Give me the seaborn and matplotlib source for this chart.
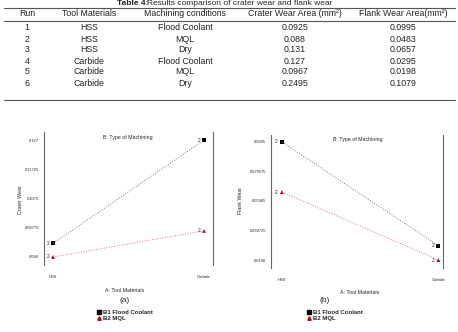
import pandas as pd
import seaborn as sns
import matplotlib.pyplot as plt
from matplotlib.lines import Line2D

# table data
runs = ["1", "2", "3", "4", "5", "6"]
tools = ["HSS", "HSS", "HSS", "Carbide", "Carbide", "Carbide"]
conditions = ["Flood Coolant", "MQL", "Dry", "Flood Coolant", "MQL", "Dry"]
crater_table = ["0.0925", "0.088", "0.131", "0.127", "0.0967", "0.2495"]
flank_table = ["0.0995", "0.0483", "0.0657", "0.0295", "0.0198", "0.1079"]
headers = ["Run", "Tool Materials", "Machining conditions",
           "Crater Wear Area (mm²)", "Flank Wear Area(mm²)"]

# interaction plot data
materials = ["HSS", "HSS", "Carbide", "Carbide"]
machining = ["B1 Flood Coolant", "B2 MQL", "B1 Flood Coolant", "B2 MQL"]
crater_wear = [0.0925, 0.088, 0.127, 0.0967]
flank_wear = [0.0995, 0.0657, 0.0295, 0.0198]
crater_ticks = [0.088, 0.09775, 0.1075, 0.11725, 0.127]
crater_ticklabels = ["0.088", "0.09775", "0.1075", "0.11725", "0.127"]
flank_ticks = [0.0198, 0.039725, 0.05965, 0.079575, 0.0995]
flank_ticklabels = ["0.0198", "0.039725", "0.05965", "0.079575", "0.0995"]

df = pd.DataFrame({"material": materials, "cond": machining,
                   "crater": crater_wear, "flank": flank_wear})

W, H = 458, 332
sns.set_style("white")
plt.rcParams["font.family"] = ["Liberation Sans", "DejaVu Sans"]
fig = plt.figure(figsize=(W / 100, H / 100), dpi=100)


def fx(px):
    return px / W


def fy(py):
    return 1 - py / H


# ---- table ----
fig.text(fx(117), fy(3.6), "Table 4:", fontsize=6, weight="bold", ha="left", va="center")
fig.text(fx(147), fy(3.6), "Results comparison of crater wear and flank wear",
         fontsize=6, ha="left", va="center")
col_x = [27, 89, 185, 295, 403]
for x, h in zip(col_x, headers):
    fig.text(fx(x), fy(13.5), h, fontsize=6.3, ha="center", va="center", color="#222222")
row_y = [28, 39, 50, 61, 72, 83]
for i, y in enumerate(row_y):
    vals = [runs[i], tools[i], conditions[i], crater_table[i], flank_table[i]]
    for x, v in zip(col_x, vals):
        fig.text(fx(x), fy(y), v, fontsize=6.3, ha="center", va="center", color="#222222")
for y in [7.5, 20.5, 100]:
    fig.add_artist(Line2D([fx(4), fx(455)], [fy(y), fy(y)], color="#555555", lw=0.8))


def interaction(ax, col, ticks, ticklabels, xlim, ylim):
    sns.lineplot(data=df, x="material", y=col, hue="cond",
                 palette=["#777777", "#e07088"], linestyle=":", linewidth=0.7,
                 legend=False, ax=ax)
    sns.scatterplot(data=df, x="material", y=col, hue="cond", style="cond",
                    markers=["s", "^"], palette=["black", "#b00010"], s=8,
                    edgecolor="none", legend=False, ax=ax)
    for _, r in df.iterrows():
        xi = 0 if r["material"] == "HSS" else 1
        ax.text(xi - 0.025, r[col], "2", fontsize=3.5, ha="right", va="center")
    ax.set_xlim(*xlim)
    ax.set_ylim(*ylim)
    ax.set_yticks(ticks)
    ax.set_yticklabels(ticklabels, fontsize=2.9)
    ax.set_xticks([0, 1])
    ax.set_xticklabels(["HSS", "Carbide"], fontsize=2.9)
    ax.tick_params(axis="both", length=2, width=0.5, color="#555555", pad=1.5)
    ax.tick_params(axis="x", pad=5)
    for s in ["top", "bottom"]:
        ax.spines[s].set_visible(False)
    for s in ["left", "right"]:
        ax.spines[s].set_color("#666666")
        ax.spines[s].set_linewidth(0.8)
    ax.set_xlabel("")
    ax.set_ylabel("")
    ax.set_facecolor("none")


# ---- left plot (a) ----
axa = fig.add_axes([fx(44), fy(265), fx(169), 133 / H])
interaction(axa, "crater", crater_ticks, crater_ticklabels,
            (-0.06, 1.06), (0.0853, 0.1297))
fig.text(fx(21), fy(200), "Crater Wear", fontsize=3.8, rotation=90, ha="center", va="center")
fig.text(fx(128), fy(137), "B: Type of Machining", fontsize=3.8, ha="center", va="center")
fig.text(fx(125), fy(290), "A: Tool Materials", fontsize=3.8, ha="center", va="center")
fig.text(fx(125), fy(301), "(a)", fontsize=6, ha="center", va="center")

# ---- right plot (b) ----
axb = fig.add_axes([fx(271), fy(268), fx(172), 133 / H])
interaction(axb, "flank", flank_ticks, flank_ticklabels,
            (-0.07, 1.03), (0.0144, 0.1042))
fig.text(fx(240), fy(200), "Flank Wear", fontsize=3.8, rotation=90, ha="center", va="center")
fig.text(fx(358), fy(139), "B: Type of Machining", fontsize=3.8, ha="center", va="center")
fig.text(fx(360), fy(293), "A: Tool Materials", fontsize=3.8, ha="center", va="center")
fig.text(fx(325), fy(301), "(b)", fontsize=6, ha="center", va="center")

# ---- legends ----
handles = [Line2D([], [], marker="s", color="black", linestyle="none", markersize=2.5),
           Line2D([], [], marker="^", color="#c00010", linestyle="none", markersize=2.5)]
labels = ["B1 Flood Coolant", "B2 MQL"]
for x in [97, 307]:
    fig.legend(handles, labels, loc="upper left", bbox_to_anchor=(fx(x), fy(310)),
               frameon=False, prop={"size": 4.3, "weight": "bold"},
               handletextpad=0.2, labelspacing=0.05, handlelength=0.8,
               borderpad=0, borderaxespad=0)

fig.savefig("out.png", dpi=100)
